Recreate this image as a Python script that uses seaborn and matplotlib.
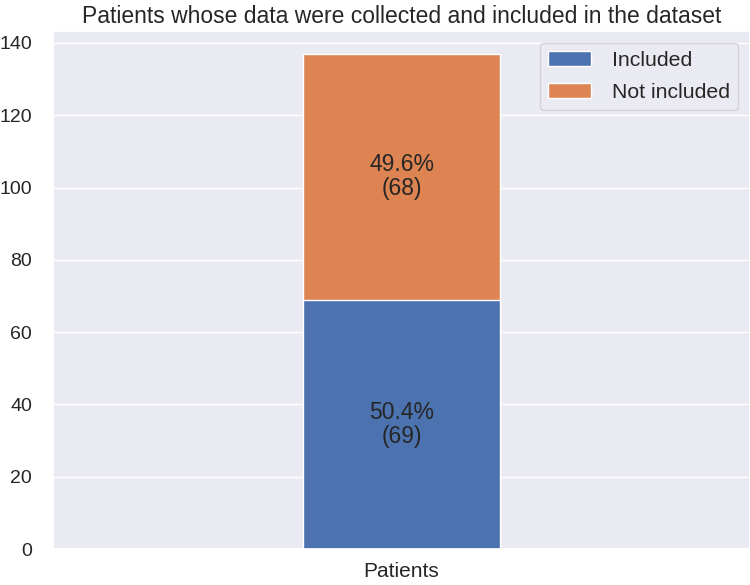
import matplotlib
matplotlib.use("Agg")
import matplotlib.pyplot as plt
import seaborn as sns
import pandas as pd
from matplotlib.patches import Patch

categories = ["Patients"]
included = [69]
not_included = [68]
series_labels = ["Included", "Not included"]
title = "Patients whose data were collected and included in the dataset"

sns.set_theme(style="darkgrid")
plt.rcParams['font.family'] = ['Liberation Sans', 'DejaVu Sans']

colors = sns.color_palette("deep")
blue, orange = colors[0], colors[1]

totals = [a + b for a, b in zip(included, not_included)]
df = pd.DataFrame({"cat": categories, "inc": included, "notinc": not_included, "total": totals})

fig = plt.figure(figsize=(7.5, 5.85), dpi=100)
ax = fig.add_axes([0.0707, 0.0615, 0.9293, 0.8855])

sns.barplot(data=df, x="cat", y="total", color=orange, saturation=1, width=0.284,
            edgecolor="white", linewidth=1, ax=ax)
sns.barplot(data=df, x="cat", y="inc", color=blue, saturation=1, width=0.284,
            edgecolor="white", linewidth=1, ax=ax)

ax.set_xlim(-0.5, 0.5)
ax.set_ylim(0, 143.3)
ax.set_yticks(range(0, 141, 20))
ax.set_xlabel("")
ax.set_ylabel("")
ax.tick_params(axis="y", labelsize=14, pad=9)
ax.tick_params(axis="x", labelsize=15, pad=3)
ax.set_title(title, fontsize=16.5, pad=6)

for i, (a, b, t) in enumerate(zip(included, not_included, totals)):
    ax.text(i, a / 2, f"{a / t * 100:.1f}%\n({a})", ha="center", va="center",
            fontsize=16.5, color="#262626", linespacing=1.05)
    ax.text(i, a + b / 2, f"{b / t * 100:.1f}%\n({b})", ha="center", va="center",
            fontsize=16.5, color="#262626", linespacing=1.05)

handles = [Patch(facecolor=blue, edgecolor="white"), Patch(facecolor=orange, edgecolor="white")]
ax.legend(handles, series_labels, loc="upper right", fontsize=15.3,
          borderaxespad=0.55, labelspacing=0.6, handletextpad=1.0)

fig.savefig("out.png", dpi=100)
